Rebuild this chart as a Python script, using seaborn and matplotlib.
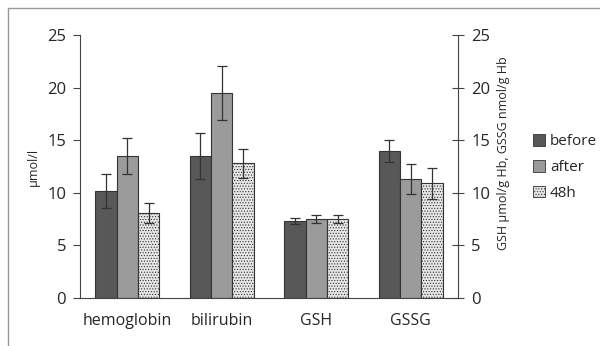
import matplotlib
matplotlib.use("Agg")
import matplotlib.pyplot as plt
from matplotlib.patches import Patch
from matplotlib.lines import Line2D
import pandas as pd
import seaborn as sns

analytes = ["hemoglobin", "bilirubin", "GSH", "GSSG"]
times = ["before", "after", "48h"]
before = [10.2, 13.5, 7.3, 14.0]
after = [13.5, 19.5, 7.5, 11.3]
h48 = [8.1, 12.8, 7.5, 10.9]
before_err = [1.6, 2.15, 0.3, 1.05]
after_err = [1.7, 2.6, 0.35, 1.4]
h48_err = [0.95, 1.35, 0.35, 1.5]

colors = ["#585858", "#9b9b9b", "#e6e6e6"]

rows = []
for t, vals in zip(times, [before, after, h48]):
    for a, v in zip(analytes, vals):
        rows.append({"analyte": a, "time": t, "value": v})
df = pd.DataFrame(rows)
errs = {"before": before_err, "after": after_err, "48h": h48_err}

sns.set_style("white")
plt.rcParams["font.family"] = ["Open Sans", "DejaVu Sans"]
plt.rcParams["hatch.color"] = "#888888"
plt.rcParams["hatch.linewidth"] = 0.5

fig = plt.figure(figsize=(6, 3.46), dpi=100)
ax = fig.add_axes([80 / 600, 1 - 298 / 346, 378 / 600, 263 / 346])

sns.barplot(data=df, x="analyte", y="value", hue="time", palette=colors,
            width=0.68, errorbar=None, ax=ax, legend=False,
            edgecolor="#333333", linewidth=0.8)

for cont, t in zip(ax.containers, times):
    xs = [p.get_x() + p.get_width() / 2 for p in cont.patches]
    ys = [p.get_height() for p in cont.patches]
    ax.errorbar(xs, ys, yerr=errs[t], fmt="none", ecolor="#333333",
                elinewidth=0.9, capsize=3.3, capthick=0.9)
    if t == "48h":
        for p in cont.patches:
            p.set_hatch("......")

ax.set_ylim(0, 25)
ax.set_xlim(-0.5, 3.5)
ax.set_yticks(range(0, 26, 5))
ax.set_xlabel("")
ax.set_ylabel("\u00b5mol/l", fontsize=9, labelpad=5)
ax.set_xticks([0.5, 1.5, 2.5], minor=True)
ax.tick_params(axis="x", which="major", length=0, labelsize=11.5, pad=11)
ax.tick_params(axis="x", which="minor", length=5, width=0.8,
               direction="out", color="#444444")
ax.tick_params(axis="y", length=5, width=0.8, direction="out",
               color="#444444", labelsize=12, pad=5, left=True)
for s in ["top", "right"]:
    ax.spines[s].set_visible(False)
for s in ["left", "bottom"]:
    ax.spines[s].set_color("#444444")
    ax.spines[s].set_linewidth(0.8)

ax2 = ax.twinx()
ax2.set_ylim(0, 25)
ax2.set_yticks(range(0, 26, 5))
for s in ["top", "left", "bottom"]:
    ax2.spines[s].set_visible(False)
ax2.spines["right"].set_color("#444444")
ax2.spines["right"].set_linewidth(0.8)
ax2.tick_params(axis="y", length=9, width=0.8, direction="inout",
                color="#444444", labelsize=12, pad=5, right=True)
ax2.set_ylabel("GSH \u00b5mol/g Hb, GSSG nmol/g Hb", fontsize=9,
               labelpad=5, y=0.55)

handles = [Patch(facecolor=c, edgecolor="#333333", linewidth=0.6) for c in colors]
handles[2].set_hatch("......")
fig.legend(handles, times, loc="upper left", bbox_to_anchor=(527 / 600, 1 - 128 / 346),
           frameon=False, fontsize=11, handlelength=0.8, handleheight=0.8,
           handletextpad=0.3, labelspacing=0.7, borderaxespad=0)

fig.add_artist(Line2D([8 / 600, 1.0], [1 - 8 / 346, 1 - 8 / 346],
                      transform=fig.transFigure, color="#999999", lw=1))
fig.add_artist(Line2D([8 / 600, 8 / 600], [0.0, 1 - 8 / 346],
                      transform=fig.transFigure, color="#999999", lw=1))

fig.savefig("out.png", dpi=100)
